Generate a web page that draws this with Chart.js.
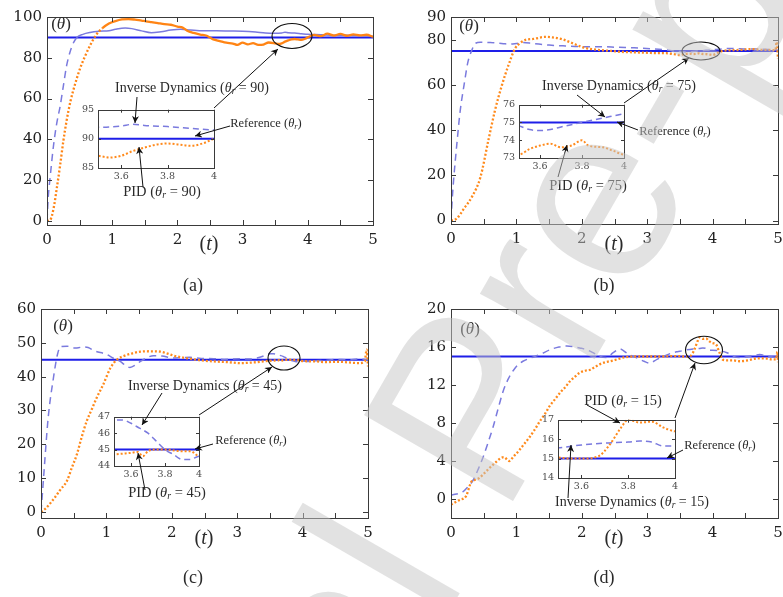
<!DOCTYPE html>
<html>
<head>
<meta charset="utf-8">
<script src="https://cdn.jsdelivr.net/npm/chart.js@4.4.0/dist/chart.umd.min.js"></script>
<style>
html, body { margin: 0; padding: 0; background: #fff; }
body { width: 783px; height: 597px; position: relative; overflow: hidden; font-family: "Liberation Serif", serif; }
canvas { position: absolute; }
.lbl { position: absolute; white-space: nowrap; color: #2a2a2a; transform: translate(-50%, -50%); line-height: 1; }
.lbl sub { font-size: 0.68em; vertical-align: -0.25em; }
svg { position: absolute; left: 0; top: 0; }
</style>
</head>
<body>
<div id="charts"></div>
<svg id="marks" width="783" height="597"></svg>
<div id="labels"></div>
<svg id="watermark" width="783" height="597">
  <text x="58" y="1289" transform="rotate(-60 58 1289)" font-family="Liberation Sans, sans-serif" font-size="250" fill="#c6c6c6" fill-opacity="0.5">Journal Pre-proof</text>
</svg>
<script>
// tick values
const xTicksMain = [0, 0.5, 1, 1.5, 2, 2.5, 3, 3.5, 4, 4.5, 5];
const xTicksInset = [3.6, 3.8, 4];
const yTicksA = [0, 20, 40, 60, 80, 100];
const yTicksB = [0, 20, 40, 60, 80, 90];
const yTicksC = [0, 10, 20, 30, 40, 50, 60];
const yTicksD = [0, 4, 8, 12, 16, 20];
const yInsetA = [85, 90, 95];
const yInsetB = [73, 74, 75, 76];
const yInsetC = [44, 45, 46, 47];
const yInsetD = [14, 15, 16, 17];

// reference angles (theta_r)
const refValues = [90, 75, 45, 15];

// inverse dynamics responses, [t, theta]
const idA = [[0,0],[0.02,12],[0.05,22],[0.1,37],[0.15,48],[0.2,56],[0.25,66],[0.3,76],[0.35,82.5],[0.4,87],[0.46,90],[0.55,91.5],[0.66,92.4],[0.8,93],[0.95,93.3],[1.05,94],[1.2,94.6],[1.3,94.3],[1.45,93.2],[1.6,92.3],[1.75,92.8],[1.9,93.6],[2.05,94],[2.2,93.6],[2.4,93.2],[2.6,93.2],[2.8,93.1],[3.0,93],[3.2,92.6],[3.35,92.1],[3.5,92],[3.6,92.2],[3.65,92.5],[3.7,92.3],[3.8,92.1],[3.9,91.8],[4.0,91.5],[4.2,91.3],[4.4,91],[4.6,91.1],[4.8,90.9],[5.0,90.5]];
const idB = [[0,0],[0.02,10],[0.04,18],[0.09,34],[0.14,48.4],[0.2,60],[0.26,70.3],[0.31,74.7],[0.37,78.3],[0.45,78.8],[0.6,78.7],[0.8,78.2],[0.9,78],[1.0,78.3],[1.1,78.7],[1.25,78.3],[1.5,77.6],[1.75,77.2],[2.0,76.9],[2.3,76.9],[2.55,76.6],[2.8,76.4],[3.05,76],[3.3,75.4],[3.4,75.0],[3.5,74.8],[3.55,74.6],[3.6,74.55],[3.65,74.6],[3.7,74.75],[3.8,75.0],[3.9,75.25],[4.0,75.5],[4.15,75.9],[4.3,76.1],[4.5,75.9],[4.7,75.8],[4.85,75.6],[5.0,75.3]];
const idC = [[0,0],[0.02,5],[0.04,10.3],[0.11,27.9],[0.19,39.6],[0.25,46.4],[0.3,48.9],[0.4,49],[0.5,48.5],[0.55,48.5],[0.65,48.8],[0.72,48.6],[0.82,47.6],[1.0,46.6],[1.1,45.5],[1.21,44.5],[1.3,43.2],[1.36,42.7],[1.45,43.5],[1.52,44.5],[1.62,45.6],[1.72,46.2],[1.85,46.1],[2.03,45.5],[2.15,45.6],[2.28,45.7],[2.45,45.4],[2.64,45.3],[2.8,45.1],[3.05,45.3],[3.2,45.2],[3.3,45.5],[3.42,46.2],[3.5,46.8],[3.55,46.8],[3.6,46.6],[3.65,46.3],[3.7,46.0],[3.75,45.5],[3.8,45.0],[3.85,44.7],[3.9,44.4],[3.95,44.4],[4.0,44.6],[4.09,44.5],[4.2,44.7],[4.35,44.8],[4.5,45.1],[4.7,45],[4.85,45.2],[5.0,45]];
const idD = [[0,0.4],[0.18,0.76],[0.26,1.3],[0.34,2.0],[0.42,3.2],[0.49,4.4],[0.56,5.8],[0.64,7.5],[0.72,9.5],[0.8,11.4],[0.88,12.7],[0.95,13.5],[1.02,14.1],[1.1,14.5],[1.2,14.8],[1.36,15.2],[1.51,15.7],[1.65,16.0],[1.77,16.1],[1.9,16.0],[1.97,15.9],[2.08,15.7],[2.17,15.4],[2.28,15.0],[2.38,14.9],[2.48,15.4],[2.58,15.8],[2.7,15.3],[2.84,14.85],[2.95,14.5],[3.04,14.3],[3.15,14.7],[3.25,15.0],[3.35,15.3],[3.45,15.5],[3.5,15.55],[3.6,15.7],[3.7,15.8],[3.8,15.85],[3.85,15.9],[3.9,15.85],[3.95,15.65],[4.0,15.65],[4.1,15.6],[4.22,15.4],[4.32,15.0],[4.42,14.9],[4.55,15.0],[4.72,15.2],[4.86,15.0],[5.0,14.9]];

// PID responses, [t, theta]
const pidA = [[0,0],[0.05,0.5],[0.1,6],[0.15,16],[0.2,27],[0.25,39],[0.3,49],[0.36,58.7],[0.43,67],[0.51,75],[0.58,80.5],[0.66,86],[0.76,91.5],[0.85,94.5],[0.95,96.8],[1.05,98],[1.15,98.8],[1.25,99],[1.35,98.7],[1.45,98.2],[1.52,97.9],[1.6,97.5],[1.7,97],[1.8,96.5],[1.9,96.2],[2.0,95.3],[2.08,94.8],[2.15,93.3],[2.25,92.2],[2.35,91.4],[2.45,90.8],[2.55,89],[2.65,88.2],[2.75,87.4],[2.85,87],[2.92,86.3],[3.0,87.4],[3.08,86.6],[3.16,87.2],[3.24,86.3],[3.32,86.5],[3.4,87.5],[3.5,87.1],[3.55,86.8],[3.6,87.1],[3.65,87.9],[3.7,88.5],[3.75,89.0],[3.8,89.2],[3.85,89.0],[3.9,88.8],[3.95,89.2],[4.0,90],[4.1,91.2],[4.2,90.6],[4.3,91.8],[4.4,90.9],[4.5,91.7],[4.6,90.8],[4.7,91.5],[4.8,91],[4.9,91.3],[5.0,90.3]];
const pidB = [[0,0],[0.09,1],[0.2,5.4],[0.32,10.5],[0.45,19.2],[0.57,35.3],[0.67,48.4],[0.78,60],[0.88,68.8],[0.98,76.1],[1.05,78.3],[1.13,79.8],[1.26,80.3],[1.44,81.2],[1.55,81],[1.7,80.2],[1.85,78.5],[2.02,76.6],[2.15,75.8],[2.27,75.4],[2.45,75],[2.6,74.6],[2.78,74.4],[3.0,74.2],[3.15,74.0],[3.29,74],[3.4,73.6],[3.5,73.2],[3.55,73.5],[3.6,73.7],[3.65,73.8],[3.7,73.6],[3.75,73.7],[3.8,74.0],[3.83,73.7],[3.9,73.6],[3.95,73.4],[4.0,73.2],[4.08,74.2],[4.17,75.1],[4.3,75.3],[4.45,75.5],[4.6,75.8],[4.75,75.5],[4.9,75.4],[4.96,75.3],[4.98,79],[5.0,71.5]];
const pidC = [[0,0],[0.07,1],[0.14,2.5],[0.22,4.5],[0.29,6.4],[0.4,9.3],[0.47,13],[0.55,17.1],[0.62,22],[0.7,26.9],[0.78,30.5],[0.85,33.7],[0.95,37.6],[1.06,42.5],[1.16,45],[1.28,46.2],[1.4,46.9],[1.52,47.4],[1.65,47.5],[1.82,47.4],[1.92,46.9],[2.03,46.2],[2.15,45.7],[2.28,45.3],[2.45,44.8],[2.64,44.5],[2.85,44.3],[3.05,44.0],[3.25,44.2],[3.4,44.5],[3.5,44.7],[3.55,44.75],[3.6,44.8],[3.64,44.85],[3.67,44.6],[3.7,44.9],[3.75,45.0],[3.8,45.0],[3.85,44.95],[3.9,44.9],[3.95,44.9],[4.0,44.6],[4.2,44.5],[4.35,44.3],[4.55,44.4],[4.7,44.2],[4.86,44],[4.95,44.5],[4.98,48],[5.0,43]];
const pidD = [[0,-0.6],[0.05,-0.4],[0.13,-0.1],[0.23,0.3],[0.31,1.8],[0.36,2.0],[0.43,2.2],[0.53,2.85],[0.61,3.4],[0.69,3.9],[0.76,4.3],[0.81,4.4],[0.89,4.0],[0.96,4.5],[1.04,5.1],[1.12,5.8],[1.2,6.5],[1.28,7.3],[1.36,8.2],[1.44,9.0],[1.51,9.8],[1.59,10.5],[1.67,11.2],[1.75,11.8],[1.82,12.4],[1.9,12.9],[1.97,13.3],[2.05,13.5],[2.13,13.6],[2.2,13.9],[2.28,14.2],[2.36,14.4],[2.43,14.5],[2.54,14.7],[2.64,14.9],[2.8,15.0],[2.94,15.0],[3.1,15.0],[3.25,15.0],[3.4,15.05],[3.5,15.05],[3.55,15.0],[3.6,15.0],[3.67,15.1],[3.72,15.7],[3.77,16.6],[3.8,17.0],[3.85,16.85],[3.9,16.9],[3.95,16.6],[4.0,16.4],[4.05,16.3],[4.1,15.5],[4.15,14.7],[4.2,14.6],[4.3,14.6],[4.42,14.5],[4.55,14.6],[4.68,14.8],[4.8,14.8],[4.9,14.7],[4.97,14.7],[4.99,15.5],[5.0,14.4]];

const ID_COLOR = '#7a7ade';
const PID_COLOR = '#ff8a1c';
const REF_COLOR = '#1e1ee8';

const panels = [
    { main: { l: 47, t: 15, r: 373, b: 225, min: -2, max: 100 }, yTicks: yTicksA,
      inset: { l: 98, t: 108, r: 214, b: 168, min: 85, max: 95 }, yInset: yInsetA,
      id: idA, pid: pidA, ref: refValues[0], idSolidFrom: 0.46, pidSolidFrom: 0.77 },
    { main: { l: 451, t: 15, r: 778, b: 224, min: -1.5, max: 90 }, yTicks: yTicksB,
      inset: { l: 519, t: 103, r: 624, b: 158, min: 73, max: 76 }, yInset: yInsetB,
      id: idB, pid: pidB, ref: refValues[1] },
    { main: { l: 41, t: 307, r: 368, b: 518, min: -1.8, max: 60 }, yTicks: yTicksC,
      inset: { l: 114, t: 415, r: 199, b: 466, min: 44, max: 47 }, yInset: yInsetC,
      id: idC, pid: pidC, ref: refValues[2] },
    { main: { l: 451, t: 307, r: 778, b: 518, min: -2, max: 20 }, yTicks: yTicksD,
      inset: { l: 558, t: 418, r: 675, b: 478, min: 14, max: 17 }, yInset: yInsetD,
      id: idD, pid: pidD, ref: refValues[3] }
];

// box frame with inward ticks on all four sides
const framePlugin = {
    id: 'frame',
    beforeDatasetsDraw(chart, args, opts) {
        if (!opts.fill) return;
        const a = chart.chartArea;
        chart.ctx.fillStyle = '#fff';
        chart.ctx.fillRect(a.left, a.top, a.right - a.left, a.bottom - a.top);
    },
    afterDraw(chart, args, opts) {
        const { ctx, chartArea: a, scales } = chart;
        const len = opts.len;
        ctx.save();
        ctx.strokeStyle = '#3a3a3a';
        ctx.lineWidth = 1;
        ctx.beginPath();
        scales.x.ticks.forEach(t => {
            const px = Math.round(scales.x.getPixelForValue(t.value)) + 0.5;
            ctx.moveTo(px, a.bottom); ctx.lineTo(px, a.bottom - len);
            ctx.moveTo(px, a.top); ctx.lineTo(px, a.top + len);
        });
        scales.y.ticks.forEach(t => {
            const py = Math.round(scales.y.getPixelForValue(t.value)) + 0.5;
            ctx.moveTo(a.left, py); ctx.lineTo(a.left + len, py);
            ctx.moveTo(a.right, py); ctx.lineTo(a.right - len, py);
        });
        ctx.stroke();
        ctx.strokeRect(Math.round(a.left) + 0.5, Math.round(a.top) + 0.5,
            Math.round(a.right - a.left), Math.round(a.bottom - a.top));
        ctx.restore();
    }
};

function makeChart(box, yTicks, xTicks, xMin, xMax, p, isInset) {
    const m = isInset ? { l: 26, t: 8, r: 8, b: 18 } : { l: 50, t: 12, r: 14, b: 32 };
    const w = box.r - box.l + m.l + m.r;
    const h = box.b - box.t + m.t + m.b;
    const cv = document.createElement('canvas');
    cv.width = w; cv.height = h;
    cv.style.left = (box.l - m.l) + 'px';
    cv.style.top = (box.t - m.t) + 'px';
    cv.style.width = w + 'px';
    cv.style.height = h + 'px';
    document.getElementById('charts').appendChild(cv);

    const idDash = isInset ? [6, 4] : [7, 5];
    const pidDash = [2, 2];
    const refLine = [[0, p.ref], [5, p.ref]];

    const pidSet = {
        data: p.pid.map(d => ({ x: d[0], y: d[1] })),
        borderColor: PID_COLOR, borderWidth: isInset ? 2 : 2.3, borderDash: pidDash
    };
    const idSet = {
        data: p.id.map(d => ({ x: d[0], y: d[1] })),
        borderColor: ID_COLOR, borderWidth: 1.5, borderDash: idDash
    };
    if (!isInset && p.pidSolidFrom) {
        pidSet.borderDash = [];
        pidSet.borderColor = '#ff8414';
        pidSet.segment = { borderDash: c => c.p0.parsed.x < p.pidSolidFrom ? pidDash : [] };
    }
    if (!isInset && p.idSolidFrom) {
        idSet.borderDash = [];
        idSet.segment = { borderDash: c => c.p0.parsed.x < p.idSolidFrom ? idDash : [] };
    }
    const refSet = {
        data: refLine.map(d => ({ x: d[0], y: d[1] })),
        borderColor: REF_COLOR, borderWidth: 2
    };

    const tickFont = isInset
        ? { family: 'DejaVu Serif', size: 9.5 }
        : { family: 'DejaVu Serif', size: 15 };
    const tickColor = isInset ? '#4a4a4a' : '#222';

    new Chart(cv, {
        type: 'line',
        data: { datasets: [pidSet, idSet, refSet] },
        plugins: [framePlugin],
        options: {
            responsive: false,
            animation: false,
            devicePixelRatio: 1,
            layout: { padding: { left: 0, top: m.t, right: m.r, bottom: 0 } },
            elements: { point: { radius: 0 }, line: { cubicInterpolationMode: 'monotone', borderCapStyle: 'butt' } },
            plugins: {
                legend: { display: false },
                tooltip: { enabled: false },
                frame: { len: isInset ? 3 : 5, fill: isInset }
            },
            scales: {
                x: {
                    type: 'linear', min: xMin, max: xMax,
                    grid: { display: false, drawTicks: false },
                    border: { display: false },
                    afterBuildTicks: s => { s.ticks = xTicks.map(v => ({ value: v })); },
                    afterFit: s => { s.height = m.b; },
                    ticks: {
                        autoSkip: false, maxRotation: 0, padding: isInset ? 3 : 6,
                        color: tickColor, font: tickFont,
                        callback: v => (isInset || Number.isInteger(v)) ? String(v) : ''
                    }
                },
                y: {
                    type: 'linear', min: box.min, max: box.max,
                    grid: { display: false, drawTicks: false },
                    border: { display: false },
                    afterBuildTicks: s => { s.ticks = yTicks.map(v => ({ value: v })); },
                    afterFit: s => { s.width = m.l; },
                    ticks: {
                        autoSkip: false, padding: isInset ? 4 : 5,
                        color: tickColor, font: tickFont,
                        callback: v => String(v)
                    }
                }
            }
        }
    });
}

panels.forEach(p => {
    makeChart(p.main, p.yTicks, xTicksMain, 0, 5, p, false);
    makeChart(p.inset, p.yInset, xTicksInset, 3.5, 4, p, true);
});

// annotations: arrows [x1, y1, x2, y2] with head at the second point, ellipses [cx, cy, rx, ry]
const arrows = [
    [214, 108, 278, 49], [137, 97, 135, 123], [230, 126, 195, 136], [143, 187, 139, 147],
    [624, 103, 689, 58], [577, 95, 605, 117], [638, 130, 617, 122], [558, 177, 567, 145],
    [199, 415, 272, 367], [162, 393, 142, 425], [213, 444, 195, 449], [145, 490, 138, 453],
    [675, 418, 695, 363], [587, 405, 620, 423], [683, 450, 667, 458], [568, 498, 571, 445]
];
const ellipses = [[292, 36, 20, 12.5], [701, 51, 19, 9], [284, 358, 16, 12], [704, 350, 18.5, 13.7]];

let svg = '<defs><marker id="ah" viewBox="0 0 10 10" refX="10" refY="5" markerWidth="9" markerHeight="7" markerUnits="userSpaceOnUse" orient="auto"><path d="M0,0 L10,5 L0,10 L3,5 z" fill="#111"/></marker></defs>';
arrows.forEach(a => {
    svg += `<line x1="${a[0]}" y1="${a[1]}" x2="${a[2]}" y2="${a[3]}" stroke="#111" stroke-width="1" marker-end="url(#ah)"/>`;
});
ellipses.forEach(e => {
    svg += `<ellipse cx="${e[0]}" cy="${e[1]}" rx="${e[2]}" ry="${e[3]}" fill="none" stroke="#111" stroke-width="1.1"/>`;
});
document.getElementById('marks').innerHTML = svg;

const th = '<i>θ</i><sub><i>r</i></sub>';
const texts = [
    [`Inverse Dynamics (${th} = 90)`, 192, 89, 14], [`Reference (${th})`, 266, 124, 12.5], [`PID (${th} = 90)`, 162, 192, 14.5],
    [`Inverse Dynamics (${th} = 75)`, 619, 87, 14], [`Reference (${th})`, 675, 132, 12.5], [`PID (${th} = 75)`, 588, 186, 14.5],
    [`Inverse Dynamics (${th} = 45)`, 205, 387, 14], [`Reference (${th})`, 251, 441, 12.5], [`PID (${th} = 45)`, 167, 493, 14.5],
    [`PID (${th} = 15)`, 623, 401, 14.5], [`Reference (${th})`, 720, 446, 12.5], [`Inverse Dynamics (${th} = 15)`, 632, 503, 14],
    ['(<i>θ</i>)', 61, 23, 17], ['(<i>θ</i>)', 469, 25, 17], ['(<i>θ</i>)', 63, 325, 17], ['(<i>θ</i>)', 470, 328, 17],
    ['(<i>t</i>)', 209, 243, 20], ['(<i>t</i>)', 614, 243, 20], ['(<i>t</i>)', 204, 537, 20], ['(<i>t</i>)', 614, 537, 20],
    ['(a)', 193, 285, 18], ['(b)', 604, 285, 18], ['(c)', 193, 577, 18], ['(d)', 604, 577, 18]
];
document.getElementById('labels').innerHTML = texts.map(t =>
    `<div class="lbl" style="left:${t[1]}px;top:${t[2]}px;font-size:${t[3]}px">${t[0]}</div>`
).join('');
</script>
</body>
</html>
